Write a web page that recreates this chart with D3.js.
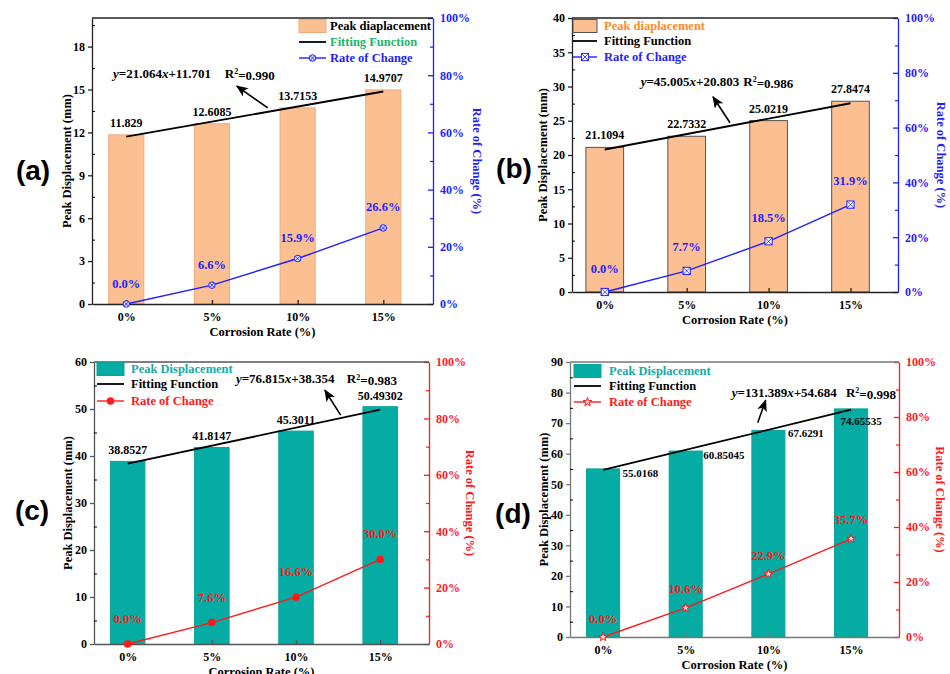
<!DOCTYPE html>
<html>
<head>
<meta charset="utf-8">
<script src="https://d3js.org/d3.v7.min.js"></script>
<style>
    body { margin: 0; background: #fff; }
    svg text { font-family: "Liberation Serif", "Times New Roman", serif; font-weight: bold; }
    svg text.letter { font-family: "Liberation Sans", Arial, sans-serif; font-size: 28px; }
</style>
</head>
<body>
<svg width="950" height="674"></svg>
<script>
    // data
    var categories = ["0%", "5%", "10%", "15%"];
    var corrosion = [0, 0.05, 0.10, 0.15];

    var peakA = [11.829, 12.6085, 13.7153, 14.9707];
    var peakB = [21.1094, 22.7332, 25.0219, 27.8474];
    var peakC = [38.8527, 41.8147, 45.3011, 50.49302];
    var peakD = [55.0168, 60.85045, 67.6291, 74.65535];

    var changeA = [0, 6.6, 15.9, 26.6];
    var changeB = [0, 7.7, 18.5, 31.9];
    var changeC = [0, 7.6, 16.6, 30.0];
    var changeD = [0, 10.6, 22.9, 35.7];

    var slopes = [21.064, 45.005, 76.815, 131.389];
    var intercepts = [11.701, 20.803, 38.354, 54.684];
    var r2 = ["0.990", "0.986", "0.983", "0.998"];

    var yMax = [20, 40, 60, 90];
    var yStep = [3, 5, 10, 10];
    var rightTicks = [0, 20, 40, 60, 80, 100];

    var peach = "#fbbf91", teal = "#05aca4", blue = "#1f1fff", red = "#ff1a1a";

    var svg = d3.select("svg");
    svg.append("rect").attr("width", 950).attr("height", 674).attr("fill", "#fff");

    var defs = svg.append("defs");
    defs.append("marker")
        .attr("id", "arrow")
        .attr("markerUnits", "userSpaceOnUse")
        .attr("markerWidth", 12).attr("markerHeight", 10)
        .attr("refX", 11).attr("refY", 5)
        .attr("orient", "auto")
        .append("path").attr("d", "M0,0 L12,5 L0,10 L3,5 z").attr("fill", "#000");

    var panels = [
        {
            letter: "(a)", lx: 33, ly: 180,
            l: 92, r: 433, t: 18, b: 304,
            peak: peakA, change: changeA, barFill: peach, barStroke: "#eeaa7c", barFrac: 0.41,
            frame: "#222", rateColor: blue, marker: "circleX", rateDy: 16.5,
            legendDx: 207, legendDy: [8, 24, 40], legendW: 27, legendTextDx: 31,
            legendNames: ["Peak diaplacement", "Fitting Function", "Rate of Change"],
            legendColors: ["#000", "#17b86c", blue],
            eq: [-0.155, 15.8], rq: [1.15, 15.8], arrow: [[1.651, 13.71], [1.29, 15.24]],
            labelMode: "above", labelDy: 8, rTitleX: 477, yTitleX: 67
        },
        {
            letter: "(b)", lx: 514, ly: 178,
            l: 572, r: 898, t: 18, b: 292,
            peak: peakB, change: changeB, barFill: peach, barStroke: "#555", barFrac: 0.46,
            frame: "#222", rateColor: blue, marker: "squareX", rateDy: 19.5,
            legendDx: 1, legendDy: [8, 23, 39], legendW: 24, legendTextDx: 31,
            legendNames: ["Peak diaplacement", "Fitting Function", "Rate of Change"],
            legendColors: ["#ff8a1e", "#000", blue],
            eq: [0.438, 30.07], rq: [1.691, 30.07], arrow: [[1.529, 24.7], [1.321, 28.5]],
            labelMode: "above", labelDy: 8, rTitleX: 941, yTitleX: 543
        },
        {
            letter: "(c)", lx: 32, ly: 520,
            l: 94, r: 429, t: 362, b: 644,
            peak: peakC, change: changeC, barFill: teal, barStroke: "#0aa39b", barFrac: 0.41,
            frame: "#555", rateColor: red, marker: "dot", rateDy: 21,
            legendDx: 3, legendDy: [7, 22, 39], legendW: 27, legendTextDx: 34,
            legendNames: ["Peak Displacement", "Fitting Function", "Rate of Change"],
            legendColors: ["#14aca4", "#000", red],
            eq: [1.286, 55.5], rq: [2.604, 55.5], arrow: [[2.53, 48.7], [2.343, 54.0]],
            labelMode: "above", labelDy: 7, rTitleX: 470, yTitleX: 68
        },
        {
            letter: "(d)", lx: 513, ly: 523,
            l: 570, r: 899, t: 362, b: 637,
            peak: peakD, change: changeD, barFill: teal, barStroke: "#0aa39b", barFrac: 0.40,
            frame: "#777", rateColor: red, marker: "star", rateDy: 14.5,
            legendDx: 4, legendDy: [9, 24, 40], legendW: 27, legendTextDx: 35,
            legendNames: ["Peak Displacement", "Fitting Function", "Rate of Change"],
            legendColors: ["#14aca4", "#000", red],
            eq: [1.556, 78.6], rq: [2.938, 78.6], arrow: [[1.871, 70.1], [1.967, 77.5]],
            labelMode: "right", labelOffsets: [[3, 8], [1, 8], [3, 7], [-27, 16.5]],
            rTitleX: 940, yTitleX: 544
        }
    ];

    function drawMarker(g, type, color, cx, cy) {
        var m = g.append("g").attr("transform", "translate(" + cx + "," + cy + ")");
        if (type === "circleX") {
            m.append("circle").attr("r", 3.3).attr("fill", "#d6d6ff").attr("stroke", color).attr("stroke-width", 1);
            m.append("path").attr("d", "M-2.2,-2.2L2.2,2.2M-2.2,2.2L2.2,-2.2").attr("stroke", color).attr("stroke-width", 0.8);
        } else if (type === "squareX") {
            m.append("rect").attr("x", -3.6).attr("y", -3.6).attr("width", 7.2).attr("height", 7.2)
                .attr("fill", "#fff").attr("stroke", color).attr("stroke-width", 1);
            m.append("path").attr("d", "M-3.6,-3.6L3.6,3.6M-3.6,3.6L3.6,-3.6").attr("stroke", color).attr("stroke-width", 0.8);
        } else if (type === "dot") {
            m.append("circle").attr("r", 3.8).attr("fill", color);
        } else {
            m.append("path").attr("d", d3.symbol(d3.symbolStar).size(24)())
                .attr("fill", "#ffe0e0").attr("stroke", color).attr("stroke-width", 1);
        }
    }

    panels.forEach(function (p, i) {
        var g = svg.append("g");
        var x = d3.scaleLinear().domain([-0.4, 3.58]).range([p.l, p.r]);
        var y = d3.scaleLinear().domain([0, yMax[i]]).range([p.b, p.t]);
        var y2 = d3.scaleLinear().domain([0, 100]).range([p.b, p.t]);
        var bw = (x(1) - x(0)) * p.barFrac;

        // bars
        g.selectAll(".bar")
            .data(p.peak)
            .enter().append("rect")
            .attr("class", "bar")
            .attr("x", function (d, j) { return x(j) - bw / 2; })
            .attr("y", function (d) { return y(d); })
            .attr("width", bw)
            .attr("height", function (d) { return y(0) - y(d); })
            .attr("fill", p.barFill)
            .attr("stroke", p.barStroke)
            .attr("stroke-width", 1);

        // axes
        var yTicks = d3.range(0, yMax[i] + 0.001, yStep[i]);
        var yMinor = yTicks.map(function (v) { return v + yStep[i] / 2; }).filter(function (v) { return v < yMax[i]; });

        var left = g.append("g").attr("transform", "translate(" + p.l + ",0)")
            .call(d3.axisLeft(y).tickValues(yTicks).tickSize(4).tickPadding(3).tickSizeOuter(0));
        g.append("g").attr("transform", "translate(" + p.l + ",0)")
            .call(d3.axisLeft(y).tickValues(yMinor).tickFormat("").tickSizeInner(-3).tickSizeOuter(0))
            .select(".domain").remove();

        var right = g.append("g").attr("transform", "translate(" + p.r + ",0)")
            .call(d3.axisRight(y2).tickValues(rightTicks).tickFormat(function (d) { return d + "%"; })
                .tickSizeInner(-5).tickPadding(7).tickSizeOuter(0));
        g.append("g").attr("transform", "translate(" + p.r + ",0)")
            .call(d3.axisRight(y2).tickValues([10, 30, 50, 70, 90]).tickFormat("").tickSizeInner(-3).tickSizeOuter(0))
            .attr("class", "rminor")
            .select(".domain").remove();

        var bottom = g.append("g").attr("transform", "translate(0," + p.b + ")")
            .call(d3.axisBottom(x).tickValues([0, 1, 2, 3]).tickFormat(function (j) { return categories[j]; })
                .tickSizeInner(-4).tickPadding(8).tickSizeOuter(0));

        g.append("line").attr("x1", p.l).attr("x2", p.r).attr("y1", p.t).attr("y2", p.t)
            .attr("stroke", p.frame).attr("stroke-width", 1.3);

        [left, bottom].forEach(function (a) {
            a.selectAll("path, line").attr("stroke", p.frame).attr("stroke-width", 1.3);
            a.selectAll("text").attr("fill", "#000").style("font-size", "12px")
                .style("font-family", "Liberation Serif").style("font-weight", "bold");
        });
        right.selectAll("path, line").attr("stroke", p.rateColor).attr("stroke-width", 1.3);
        right.selectAll("text").attr("fill", p.rateColor).style("font-size", "12px")
            .style("font-family", "Liberation Serif").style("font-weight", "bold");
        g.selectAll(".rminor line").attr("stroke", p.rateColor).attr("stroke-width", 1.2);

        // fitting function
        g.append("path")
            .datum([0, 3])
            .attr("d", d3.line()
                .x(function (j) { return x(j); })
                .y(function (j) { return y(intercepts[i] + slopes[i] * corrosion[j]); }))
            .attr("fill", "none").attr("stroke", "#000").attr("stroke-width", 1.8);

        // rate of change
        g.append("path")
            .datum(p.change)
            .attr("d", d3.line()
                .x(function (d, j) { return x(j); })
                .y(function (d) { return y2(d); }))
            .attr("fill", "none").attr("stroke", p.rateColor).attr("stroke-width", 1.4);
        p.change.forEach(function (d, j) { drawMarker(g, p.marker, p.rateColor, x(j), y2(d)); });

        g.selectAll(".ratelab")
            .data(p.change)
            .enter().append("text")
            .attr("x", function (d, j) { return x(j); })
            .attr("y", function (d) { return y2(d) - p.rateDy; })
            .attr("text-anchor", "middle")
            .attr("fill", p.rateColor)
            .style("font-size", "12.5px")
            .text(function (d) { return d.toFixed(1) + "%"; });

        // value labels
        var vl = g.selectAll(".vallab")
            .data(p.peak)
            .enter().append("text")
            .attr("fill", "#000")
            .text(function (d) { return String(d); });
        if (p.labelMode === "above") {
            vl.attr("x", function (d, j) { return x(j); })
                .attr("y", function (d) { return y(d) - p.labelDy; })
                .attr("text-anchor", "middle")
                .style("font-size", "12px");
        } else {
            vl.attr("x", function (d, j) { return x(j) + bw / 2 + p.labelOffsets[j][0]; })
                .attr("y", function (d, j) { return y(d) + p.labelOffsets[j][1]; })
                .attr("text-anchor", "start")
                .style("font-size", "11px");
        }

        // equation + arrow
        var eq = g.append("text").attr("x", x(p.eq[0])).attr("y", y(p.eq[1])).style("font-size", "13px");
        eq.append("tspan").style("font-style", "italic").text("y");
        eq.append("tspan").text("=" + slopes[i].toFixed(3));
        eq.append("tspan").style("font-style", "italic").text("x");
        eq.append("tspan").text("+" + intercepts[i].toFixed(3));
        var rq = g.append("text").attr("x", x(p.rq[0])).attr("y", y(p.rq[1])).style("font-size", "13px");
        rq.append("tspan").text("R");
        rq.append("tspan").attr("dy", "-0.45em").style("font-size", "8px").text("2");
        rq.append("tspan").attr("dy", "0.45em").text("=" + r2[i]);

        g.append("line")
            .attr("x1", x(p.arrow[0][0])).attr("y1", y(p.arrow[0][1]))
            .attr("x2", x(p.arrow[1][0])).attr("y2", y(p.arrow[1][1]))
            .attr("stroke", "#000").attr("stroke-width", 1.6)
            .attr("marker-end", "url(#arrow)");

        // legend
        var lg = g.append("g").attr("transform", "translate(" + (p.l + p.legendDx) + "," + p.t + ")");
        lg.append("rect").attr("x", 0).attr("y", p.legendDy[0] - 6.5).attr("width", p.legendW).attr("height", 13)
            .attr("fill", p.barFill).attr("stroke", p.barStroke).attr("stroke-width", 1);
        lg.append("line").attr("x1", 0).attr("x2", p.legendW).attr("y1", p.legendDy[1]).attr("y2", p.legendDy[1])
            .attr("stroke", "#000").attr("stroke-width", 1.8);
        lg.append("line").attr("x1", 0).attr("x2", p.legendW).attr("y1", p.legendDy[2]).attr("y2", p.legendDy[2])
            .attr("stroke", p.rateColor).attr("stroke-width", 1.4);
        drawMarker(lg, p.marker, p.rateColor, p.legendW / 2, p.legendDy[2]);
        p.legendNames.forEach(function (name, k) {
            lg.append("text").attr("x", p.legendTextDx).attr("y", p.legendDy[k]).attr("dy", "0.35em")
                .attr("fill", p.legendColors[k]).style("font-size", "12.5px").text(name);
        });

        // titles
        g.append("text")
            .attr("transform", "translate(" + p.yTitleX + "," + (p.t + p.b) / 2 + ") rotate(-90)")
            .attr("dy", "0.35em").attr("text-anchor", "middle").style("font-size", "12.5px")
            .attr("fill", "#000").text("Peak Displacement (mm)");
        g.append("text")
            .attr("transform", "translate(" + p.rTitleX + "," + (p.t + p.b) / 2 + ") rotate(90)")
            .attr("dy", "0.35em").attr("text-anchor", "middle").style("font-size", "12.5px")
            .attr("fill", p.rateColor).text("Rate of Change (%)");
        g.append("text")
            .attr("x", (p.l + p.r) / 2).attr("y", p.b + 32)
            .attr("text-anchor", "middle").style("font-size", "12.5px")
            .attr("fill", "#000").text("Corrosion Rate (%)");

        svg.append("text").attr("class", "letter").attr("x", p.lx).attr("y", p.ly)
            .attr("text-anchor", "middle").attr("fill", "#000").text(p.letter);
    });
</script>
</body>
</html>
